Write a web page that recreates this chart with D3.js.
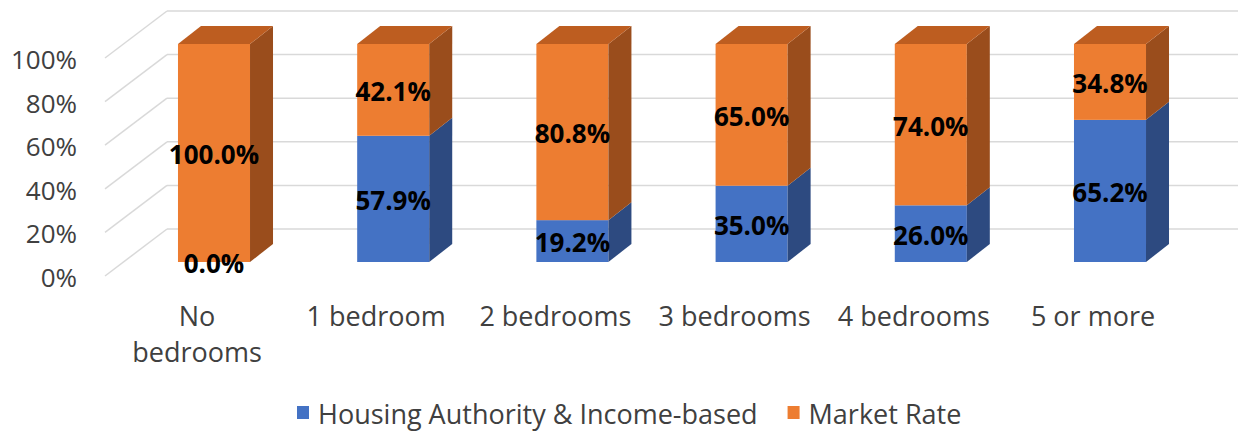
<!DOCTYPE html>
<html>
<head>
<meta charset="utf-8">
<script src="https://cdn.jsdelivr.net/npm/d3@7"></script>
<style>
  body { margin: 0; background: #fff; }
  svg { display: block; font-family: "Open Sans", sans-serif; }
</style>
</head>
<body>
<svg id="chart" width="1238" height="431"></svg>
<script>
// Data
let categories = ["No bedrooms", "1 bedroom", "2 bedrooms", "3 bedrooms", "4 bedrooms", "5 or more"];
let categoryLines = [["No", "bedrooms"], ["1 bedroom"], ["2 bedrooms"], ["3 bedrooms"], ["4 bedrooms"], ["5 or more"]];
let seriesNames = ["Housing Authority & Income-based", "Market Rate"];
let housingValues = [0.0, 57.9, 19.2, 35.0, 26.0, 65.2];
let marketValues = [100.0, 42.1, 80.8, 65.0, 74.0, 34.8];
let tickValues = [0, 20, 40, 60, 80, 100];

let colors = {
    front: ["#4472c4", "#ed7d31"],
    side: ["#2d4a80", "#9a4d1c"],
    top: ["#3a62a8", "#bd5d20"]
};

let svg = d3.select("#chart");
let W = 1238;

// Depth of the 3D box: front wall -> back wall
let wallDx = 62, wallDy = 47;
// Bar front face sits 0.3 into the depth, back face at 0.68
let barDx = 23, barDy = 18;
let frontToBackDy = 33;   // bar front plane -> back wall

// Scales (on the bar front plane)
let x = d3.scaleBand()
    .domain(categories)
    .range([124.4, 1199.6])
    .paddingInner(0.598)
    .paddingOuter(0.299);

let y = d3.scaleLinear()
    .domain([0, 100])
    .range([262, 44]);

// Gridlines: back wall horizontal + side wall diagonal
let wallX = 167;
let grid = svg.append("g");
tickValues.forEach(function(t) {
    let yb = y(t) - frontToBackDy;
    grid.append("line")
        .attr("x1", wallX).attr("x2", W)
        .attr("y1", yb).attr("y2", yb)
        .style("stroke", "#d9d9d9").style("stroke-width", 1.5);
    grid.append("line")
        .attr("x1", wallX - wallDx).attr("x2", wallX)
        .attr("y1", yb + wallDy).attr("y2", yb)
        .style("stroke", "#d9d9d9").style("stroke-width", 1.5);
});

// Y tick labels
svg.append("g").selectAll("text")
    .data(tickValues)
    .enter().append("text")
    .attr("x", 77)
    .attr("y", function(d) { return y(d) - frontToBackDy + wallDy + 1; })
    .attr("text-anchor", "end")
    .attr("dominant-baseline", "central")
    .style("font-size", "26px")
    .style("fill", "#404040")
    .text(function(d) { return d + "%"; });

// Stack the two series
let rows = categories.map(function(c, i) {
    return { cat: c, values: [housingValues[i], marketValues[i]] };
});

function pts(arr) {
    return arr.map(function(p) { return p.join(","); }).join(" ");
}

let bars = svg.append("g").selectAll(".bar")
    .data(rows)
    .enter().append("g")
    .attr("class", "bar");

bars.each(function(d) {
    let g = d3.select(this);
    let L = x(d.cat), R = L + x.bandwidth();
    let base = 0;
    let last = d.values.length - 1;
    d.values.forEach(function(v, s) {
        let y0 = y(base), y1 = y(base + v);
        if (v > 0) {
            g.append("rect")
                .attr("x", L).attr("y", y1)
                .attr("width", R - L).attr("height", y0 - y1)
                .style("fill", colors.front[s]);
            g.append("polygon")
                .attr("points", pts([[R, y0], [R + barDx, y0 - barDy], [R + barDx, y1 - barDy], [R, y1]]))
                .style("fill", colors.side[s]);
            if (s === last) {
                g.append("polygon")
                    .attr("points", pts([[L, y1], [R, y1], [R + barDx, y1 - barDy], [L + barDx, y1 - barDy]]))
                    .style("fill", colors.top[s]);
            }
        }
        base += v;
    });
});

// Data labels
bars.each(function(d) {
    let g = d3.select(this);
    let cx = x(d.cat) + x.bandwidth() / 2;
    let base = 0;
    d.values.forEach(function(v) {
        g.append("text")
            .attr("x", cx)
            .attr("y", y(base + v / 2) + 1)
            .attr("text-anchor", "middle")
            .attr("dominant-baseline", "central")
            .style("font-size", "26px")
            .style("font-weight", "bold")
            .style("fill", "#000")
            .text(v.toFixed(1) + "%");
        base += v;
    });
});

// Category labels
svg.append("g").selectAll("text")
    .data(categories)
    .enter().append("text")
    .attr("text-anchor", "middle")
    .style("font-size", "27px")
    .style("fill", "#404040")
    .each(function(c, i) {
        let t = d3.select(this);
        let cx = x(c) + x.bandwidth() / 2 - 17;
        categoryLines[i].forEach(function(line, k) {
            t.append("tspan")
                .attr("x", cx)
                .attr("y", 326 + k * 36)
                .text(line);
        });
    });

// Legend
let legend = svg.append("g");
let lx = 297;
seriesNames.forEach(function(name, s) {
    legend.append("rect")
        .attr("x", lx).attr("y", 406)
        .attr("width", 12).attr("height", 13)
        .style("fill", colors.front[s]);
    let t = legend.append("text")
        .attr("x", lx + 21)
        .attr("y", 413)
        .attr("dominant-baseline", "central")
        .style("font-size", "27px")
        .style("fill", "#404040")
        .text(name);
    lx += 21 + t.node().getComputedTextLength() + 30;
});
</script>
</body>
</html>
